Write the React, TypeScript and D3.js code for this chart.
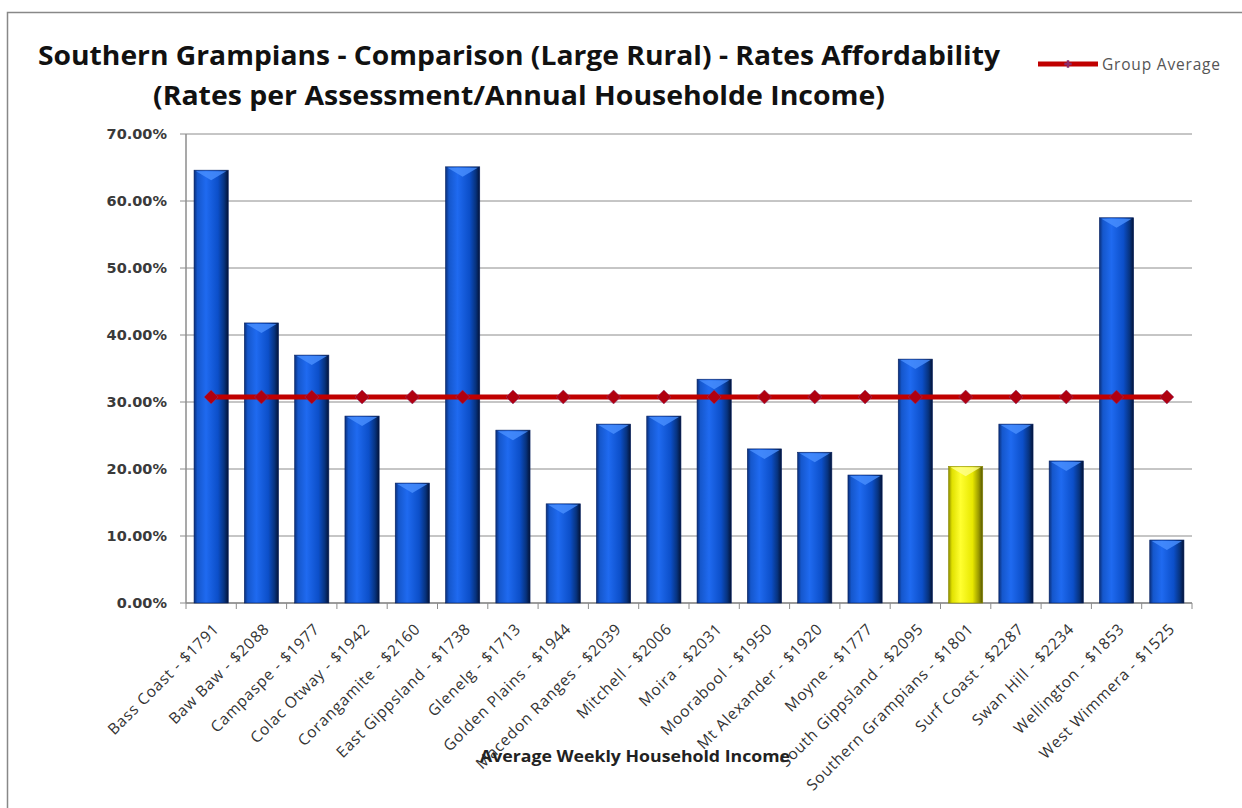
import React from "react";
import * as d3 from "d3";

const categories = [
  "Bass Coast - $1791", "Baw Baw - $2088", "Campaspe - $1977", "Colac Otway - $1942",
  "Corangamite - $2160", "East Gippsland - $1738", "Glenelg - $1713", "Golden Plains - $1944",
  "Macedon Ranges - $2039", "Mitchell - $2006", "Moira - $2031", "Moorabool - $1950",
  "Mt Alexander - $1920", "Moyne - $1777", "South Gippsland - $2095", "Southern Grampians - $1801",
  "Surf Coast - $2287", "Swan Hill - $2234", "Wellington - $1853", "West Wimmera - $1525",
];
const values = [
  64.6, 41.8, 37.0, 27.9, 17.9, 65.1, 25.8, 14.8, 26.7, 27.9,
  33.4, 23.0, 22.5, 19.1, 36.4, 20.4, 26.7, 21.2, 57.5, 9.4,
];
const groupAverage = categories.map(() => 30.75);
const highlight = "Southern Grampians - $1801";
const yTicks = [0, 10, 20, 30, 40, 50, 60, 70];

export default function App() {
  const W = 1242, H = 808;
  const left = 186, right = 1192, top = 134, bottom = 603;
  const x = d3.scaleBand<string>().domain(categories).range([left, right]).paddingInner(0.32).paddingOuter(0.16);
  const step = x.step();
  const y = d3.scaleLinear().domain([0, 70]).range([bottom, top]);
  const bw = x.bandwidth();
  const cx = (c: string) => (x(c) as number) + bw / 2;
  const avgLine = d3.line<number>()
    .x((_, i) => cx(categories[i]))
    .y((d) => y(d));
  const dm = 7;
  const diamond = `M0,${-dm}L${dm},0L0,${dm}L${-dm},0Z`;
  const font = "'Open Sans', 'DejaVu Sans', sans-serif";

  return (
    <svg width={W} height={H} style={{ position: "absolute", left: 0, top: 0, background: "#fff" }}>
      <defs>
        <linearGradient id="blueG" x1="0" x2="1" y1="0" y2="0">
          <stop offset="0" stopColor="#0a2f7a" />
          <stop offset="0.1" stopColor="#1557cc" />
          <stop offset="0.35" stopColor="#1f6af0" />
          <stop offset="0.7" stopColor="#0c4fc9" />
          <stop offset="0.88" stopColor="#07337f" />
          <stop offset="1" stopColor="#031338" />
        </linearGradient>
        <linearGradient id="yellowG" x1="0" x2="1" y1="0" y2="0">
          <stop offset="0" stopColor="#8a8a00" />
          <stop offset="0.1" stopColor="#e0e000" />
          <stop offset="0.35" stopColor="#ffff30" />
          <stop offset="0.7" stopColor="#e8e800" />
          <stop offset="0.88" stopColor="#9a9a00" />
          <stop offset="1" stopColor="#555500" />
        </linearGradient>
      </defs>
      <rect x={7.5} y={12.5} width={1250} height={820} fill="#fff" stroke="#888" strokeWidth={1.5} />
      <text x={519} y={65} textAnchor="middle" fontFamily={font} fontWeight="bold" fontSize={27} fill="#111"
        textLength={962} lengthAdjust="spacingAndGlyphs">
        Southern Grampians - Comparison (Large Rural) - Rates Affordability
      </text>
      <text x={519} y={105} textAnchor="middle" fontFamily={font} fontWeight="bold" fontSize={27} fill="#111"
        textLength={732} lengthAdjust="spacingAndGlyphs">
        (Rates per Assessment/Annual Householde Income)
      </text>
      {/* legend */}
      <line x1={1038} x2={1098} y1={64} y2={64} stroke="#c00000" strokeWidth={5} />
      <path d={d3.symbol().type(d3.symbolCross).size(30)() as string} transform="translate(1068,64)" fill="#8a2b6a" />
      <text x={1102} y={70} fontFamily={font} fontSize={15.5} fill="#555" textLength={118} lengthAdjust="spacing">Group Average</text>

      {/* gridlines */}
      {yTicks.map((t) => (
        <g key={t}>
          <line x1={left} x2={right} y1={y(t)} y2={y(t)} stroke="#8c8c8c" strokeWidth={1} />
          <line x1={left - 6} x2={left} y1={y(t)} y2={y(t)} stroke="#8c8c8c" strokeWidth={1} />
          <text x={167} y={y(t) + 5} textAnchor="end" fontFamily="'DejaVu Sans', sans-serif" fontSize={14.5} fontWeight="bold" fill="#3a3a3a">
            {t.toFixed(2)}%
          </text>
        </g>
      ))}
      <line x1={left} x2={left} y1={top} y2={bottom} stroke="#8c8c8c" strokeWidth={1.5} />
      <line x1={left} x2={right} y1={bottom} y2={bottom} stroke="#8c8c8c" strokeWidth={1.5} />
      {d3.range(categories.length + 1).map((i) => (
        <line key={i} x1={left + i * step} x2={left + i * step} y1={bottom} y2={bottom + 6} stroke="#8c8c8c" strokeWidth={1} />
      ))}

      {/* bars */}
      {categories.map((c, i) => {
        const bx = x(c) as number;
        const by = y(values[i]);
        const hl = c === highlight;
        return (
          <g key={c}>
            <rect x={bx} y={by} width={bw} height={bottom - by} fill={hl ? "url(#yellowG)" : "url(#blueG)"} stroke={hl ? "#8a8a00" : "#062060"} strokeWidth={0.6} />
            <path d={`M${bx + 2},${by + 1} L${bx + bw - 2},${by + 1} L${bx + bw / 2},${by + 10} Z`} fill={hl ? "#ffff90" : "#4a90ff"} opacity={0.8} />
          </g>
        );
      })}

      {/* average line */}
      <path d={avgLine(groupAverage) as string} fill="none" stroke="#c00000" strokeWidth={5} />
      {groupAverage.map((v, i) => (
        <path key={i} d={diamond} transform={`translate(${cx(categories[i])},${y(v)})`} fill="#b00010" stroke="#8a3a7a" strokeWidth={0.5} />
      ))}

      {/* x labels */}
      {categories.map((c) => (
        <text key={c} transform={`translate(${cx(c) + 1},${bottom + 19}) rotate(-45)`} dy="0.72em" textAnchor="end"
          fontFamily={font} fontSize={15.5} letterSpacing={0.8} fill="#333">
          {c}
        </text>
      ))}
      <text x={635} y={762} textAnchor="middle" fontFamily={font} fontWeight="bold" fontSize={16} fill="#222"
        textLength={310} lengthAdjust="spacingAndGlyphs">
        Average Weekly Household  Income
      </text>
    </svg>
  );
}
